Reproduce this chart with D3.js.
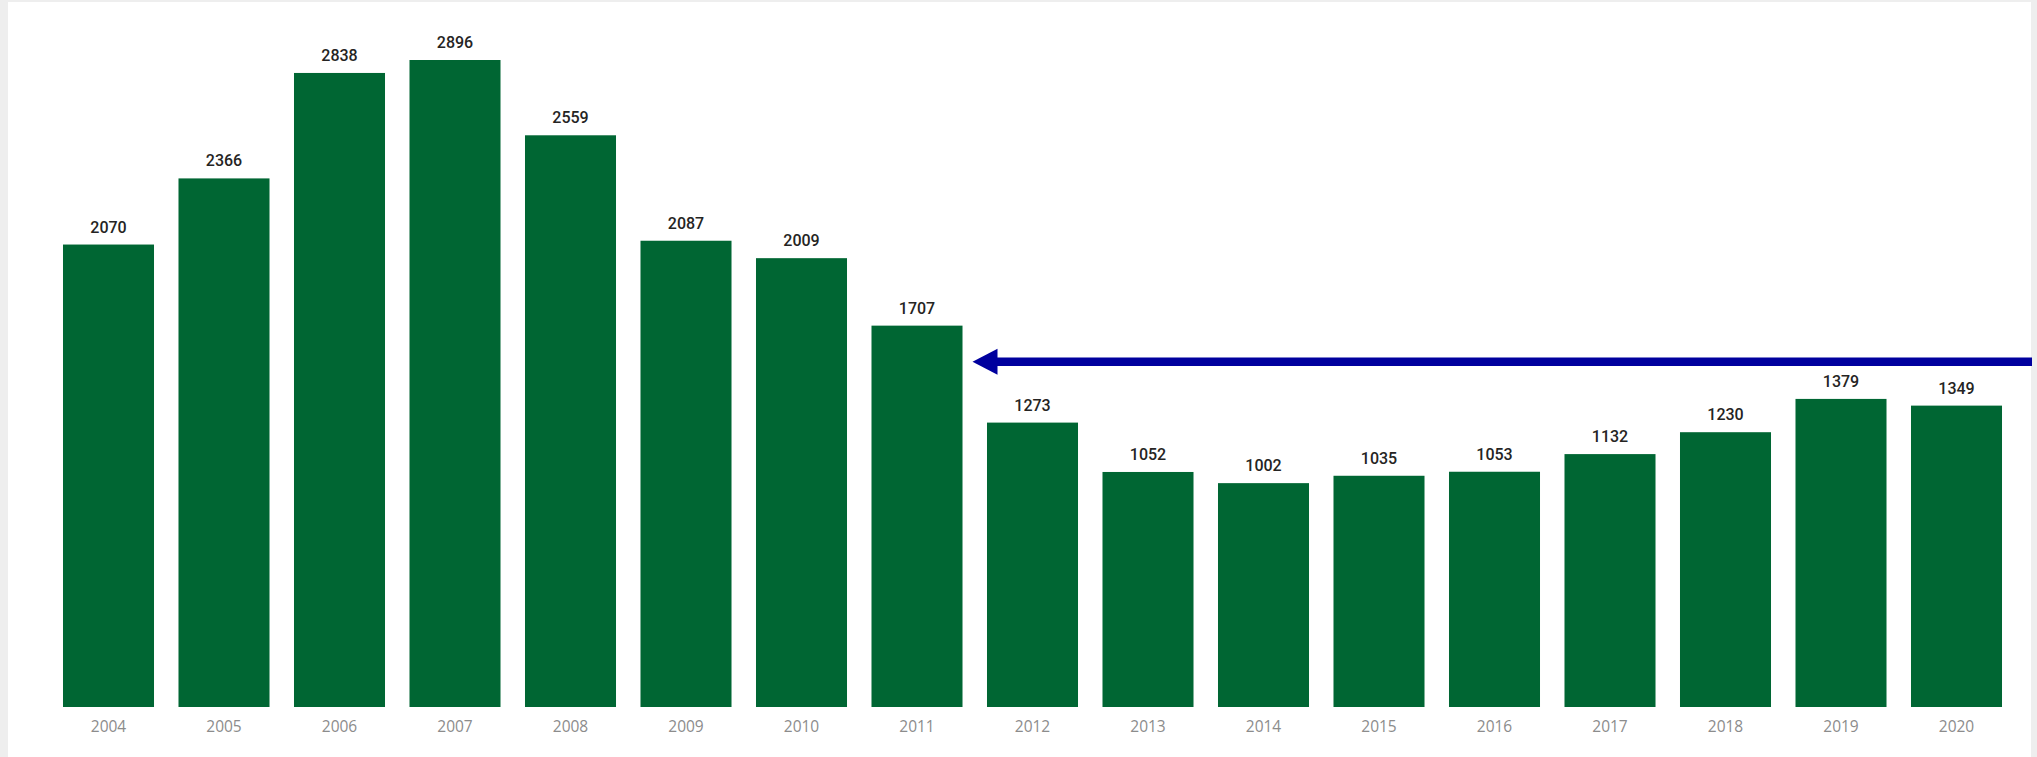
<!DOCTYPE html>
<html lang="en">
	<head>
		<meta charset="utf-8">
		<title>Yearly totals 2004-2020</title>
		<script type="text/javascript" src="https://cdn.jsdelivr.net/npm/d3@7"></script>
		<style type="text/css">
			body { margin: 0; background: #eeeeee; }
			svg { display: block; }
		</style>
	</head>
	<body>
		<script type="text/javascript">

		var w = 2037;
		var h = 757;

		// data
		var years = ["2004", "2005", "2006", "2007", "2008", "2009", "2010", "2011", "2012",
			"2013", "2014", "2015", "2016", "2017", "2018", "2019", "2020"];
		var counts = [2070, 2366, 2838, 2896, 2559, 2087, 2009, 1707, 1273,
			1052, 1002, 1035, 1053, 1132, 1230, 1379, 1349];
		// the arrow points at this year, at this level
		var arrowYear = "2011";
		var arrowLevel = 1545;

		var dataset = years.map(function(y, i) {
			return { year: y, count: counts[i] };
		});

		var svg = d3.select("body")
			.append("svg")
			.attr("width", w)
			.attr("height", h);

		//white card on the grey page
		svg.append("rect")
			.attr("x", 8)
			.attr("y", 2)
			.attr("width", 2023)
			.attr("height", h)
			.attr("fill", "#ffffff");

		var xScale = d3.scaleBand()
			.domain(years)
			.range([50.75, 2014.25])
			.paddingInner(0.212)
			.paddingOuter(0.106);

		var yScale = d3.scaleLinear()
			.domain([0, d3.max(counts)])
			.range([707, 60]);

		//bars
		svg.selectAll("rect.bar")
			.data(dataset)
			.enter()
			.append("rect")
			.attr("class", "bar")
			.attr("x", function(d) { return xScale(d.year); })
			.attr("y", function(d) { return yScale(d.count); })
			.attr("width", xScale.bandwidth())
			.attr("height", function(d) { return yScale(0) - yScale(d.count); })
			.attr("fill", "#006633");

		//value labels
		svg.selectAll("text.val")
			.data(dataset)
			.enter()
			.append("text")
			.attr("class", "val")
			.attr("x", function(d) { return xScale(d.year) + xScale.bandwidth() / 2; })
			.attr("y", function(d) { return yScale(d.count) - 12; })
			.attr("text-anchor", "middle")
			.attr("font-family", "Roboto, sans-serif")
			.attr("font-weight", 500)
			.attr("font-size", "16px")
			.attr("fill", "#252423")
			.text(function(d) { return d.count; });

		//x axis, labels only
		var xAxis = d3.axisBottom(xScale).tickSize(0).tickPadding(0);
		var gx = svg.append("g")
			.attr("transform", "translate(0,707)")
			.call(xAxis);
		gx.select(".domain").remove();
		gx.selectAll("text")
			.attr("dy", null)
			.attr("y", 25)
			.attr("font-family", "'Open Sans', sans-serif")
			.attr("font-size", "15.5px")
			.attr("fill", "#8c8c8c");

		//arrow from the right edge to the 2011 bar
		var ay = yScale(arrowLevel);
		var tipX = xScale(arrowYear) + xScale.bandwidth() + 10;
		svg.append("line")
			.attr("x1", tipX + 20)
			.attr("x2", 2032)
			.attr("y1", ay)
			.attr("y2", ay)
			.attr("stroke", "#00009e")
			.attr("stroke-width", 8.5);
		svg.append("path")
			.attr("d", "M" + tipX + "," + ay + " L" + (tipX + 25) + "," + (ay - 13) +
				" L" + (tipX + 25) + "," + (ay + 13) + " Z")
			.attr("fill", "#00009e");

		</script>
	</body>
</html>
